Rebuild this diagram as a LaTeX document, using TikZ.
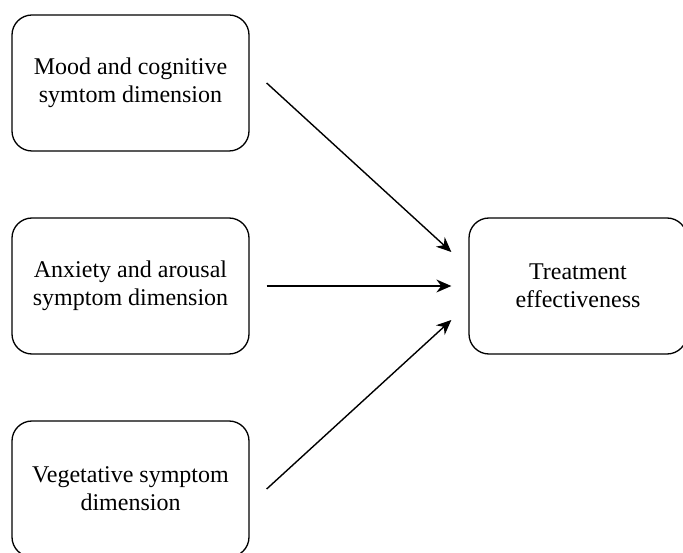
\documentclass[tikz,border=0pt]{standalone}
\usepackage{fontspec}
\setmainfont{Liberation Serif}
\usetikzlibrary{calc,arrows.meta}
\begin{document}
\begin{tikzpicture}[x=1pt,y=1pt,
  box/.style={draw, line width=1.3pt, rounded corners=20pt, minimum width=237pt, minimum height=136pt, align=center, font=\fontsize{24}{28}\selectfont, inner sep=0pt},
  conn/.style={line width=1.4pt, -{Stealth[length=15pt,width=13pt]}}]
\useasboundingbox (0,0) rectangle (683,552);
\clip (0,0) rectangle (683,552);
\fill[white] (0,0) rectangle (683,552);
\node[box] (m) at (130.5,469) {Mood and cognitive\\symtom dimension};
\node[box] (a) at (130.5,266) {Anxiety and arousal\\symptom dimension};
\node[box] (v) at (130.5,63) {Vegetative symptom\\dimension};
\node[box, minimum width=218pt] (t) at (578,266) {Treatment\\effectiveness};
\draw[conn] ($(m.east)+(17,0)$) -- ($(t.west)+(-17,34)$);
\draw[conn] ($(a.east)+(17,0)$) -- ($(t.west)+(-17,0)$);
\draw[conn] ($(v.east)+(17,0)$) -- ($(t.west)+(-17,-34)$);
\end{tikzpicture}
\end{document}
